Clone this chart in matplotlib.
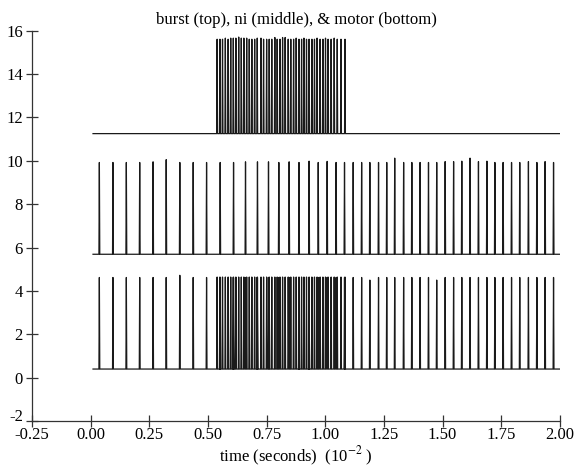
import matplotlib
matplotlib.use("Agg")
import matplotlib.pyplot as plt
import numpy as np

plt.rcParams['font.family'] = ['Liberation Serif', 'DejaVu Serif']
plt.rcParams['mathtext.fontset'] = 'stix'

# spike times (units of 1e-2 s)
ni_times = [0.037, 0.095, 0.152, 0.209, 0.266, 0.322, 0.380, 0.437, 0.494, 0.552,
            0.609, 0.660, 0.711, 0.758, 0.802, 0.846, 0.888, 0.931, 0.970, 1.008,
            1.046, 1.082, 1.119, 1.155, 1.190, 1.227, 1.262, 1.296, 1.334, 1.369,
            1.404, 1.440, 1.475, 1.511, 1.547, 1.582, 1.617, 1.653, 1.689, 1.723,
            1.758, 1.794, 1.829, 1.866, 1.902, 1.937, 1.973]
ni_peaks = [9.92, 9.92, 9.92, 9.92, 9.95, 10.05, 9.92, 9.92, 9.92, 9.92,
            9.92, 9.95, 9.95, 9.95, 9.92, 9.95, 9.92, 9.98, 9.92, 9.97,
            9.92, 9.92, 9.92, 9.92, 9.92, 9.92, 9.92, 10.12, 9.92, 9.92,
            9.92, 9.92, 9.92, 9.96, 9.96, 9.98, 10.12, 9.96, 9.98, 9.92,
            9.92, 9.92, 9.92, 9.96, 9.92, 9.96, 9.92]

burst_times = [0.539, 0.551, 0.562, 0.574, 0.586, 0.597, 0.608, 0.619, 0.631, 0.642,
               0.653, 0.665, 0.676, 0.687, 0.699, 0.710, 0.726, 0.737, 0.750, 0.761,
               0.772, 0.785, 0.795, 0.807, 0.818, 0.829, 0.842, 0.853, 0.865, 0.876,
               0.888, 0.899, 0.909, 0.920, 0.931, 0.943, 0.954, 0.965, 0.978, 0.990,
               1.001, 1.012, 1.025, 1.038, 1.051, 1.067, 1.084]
burst_peaks = [15.6, 15.6, 15.6, 15.65, 15.6, 15.65, 15.65, 15.65, 15.7, 15.65,
               15.65, 15.65, 15.6, 15.6, 15.6, 15.65, 15.65, 15.6, 15.6, 15.6,
               15.6, 15.68, 15.6, 15.6, 15.68, 15.68, 15.6, 15.6, 15.6, 15.65,
               15.6, 15.6, 15.65, 15.6, 15.6, 15.6, 15.6, 15.65, 15.6, 15.6,
               15.65, 15.6, 15.6, 15.65, 15.6, 15.6, 15.6]

motor_ni_peaks = [4.62, 4.62, 4.62, 4.62, 4.62, 4.62, 4.72, 4.62, 4.62, 4.62,
                  4.62, 4.62, 4.62, 4.62, 4.62, 4.62, 4.62, 4.62, 4.62, 4.62,
                  4.62, 4.62, 4.62, 4.62, 4.50, 4.62, 4.62, 4.62, 4.62, 4.62,
                  4.62, 4.62, 4.50, 4.62, 4.62, 4.62, 4.62, 4.62, 4.62, 4.62,
                  4.62, 4.62, 4.62, 4.62, 4.62, 4.62, 4.62]
motor_burst_peak = 4.64

burst_base = 11.25
ni_base = 5.69
motor_base = 0.40
t_start, t_end = 0.01, 2.0

title = "burst (top), ni (middle), & motor (bottom)"
xlabel = "time (seconds)  (10$^{-2}$ )"
xticks = [-0.25, 0.00, 0.25, 0.50, 0.75, 1.00, 1.25, 1.50, 1.75, 2.00]
yticks = [-2, 0, 2, 4, 6, 8, 10, 12, 14, 16]


def spike_trace(times, peaks, base, w=0.0018):
    order = np.argsort(times)
    xs = [t_start]
    ys = [base]
    for i in order:
        t = times[i]
        p = peaks[i]
        xs += [t - w, t, t + w]
        ys += [base, p, base]
    xs.append(t_end)
    ys.append(base)
    return xs, ys


fig = plt.figure(figsize=(5.76, 4.70), dpi=100)
ax = fig.add_axes([0.0556, 0.104, 0.9164, 0.831])

col = '#1a1a1a'
x, y = spike_trace(burst_times, burst_peaks, burst_base)
ax.plot(x, y, color=col, lw=0.9)
x, y = spike_trace(ni_times, ni_peaks, ni_base)
ax.plot(x, y, color=col, lw=0.9)
m_times = list(ni_times) + list(burst_times)
m_peaks = list(motor_ni_peaks) + [motor_burst_peak] * len(burst_times)
x, y = spike_trace(m_times, m_peaks, motor_base)
ax.plot(x, y, color=col, lw=0.9)

ax.set_xlim(-0.25, 2.0)
ax.set_ylim(-2, 16)
ax.set_xticks(xticks)
ax.set_xticklabels([f"{v:.2f}" for v in xticks])
ax.set_yticks(yticks)
ax.set_yticklabels([str(v) for v in yticks])
ax.spines['top'].set_visible(False)
ax.spines['right'].set_visible(False)
for s in ['left', 'bottom']:
    ax.spines[s].set_color('#333333')
    ax.spines[s].set_linewidth(0.9)
ax.tick_params(direction='inout', length=9, width=0.9, labelsize=12, color='#333333')
ax.tick_params(axis='x', pad=0)
ax.tick_params(axis='y', pad=2)
ax.set_title(title, fontsize=12, pad=5)
ax.set_xlabel(xlabel, fontsize=12, labelpad=1)
ax.get_yticklabels()[0].set_verticalalignment('baseline')

fig.savefig("out.png", dpi=100)
